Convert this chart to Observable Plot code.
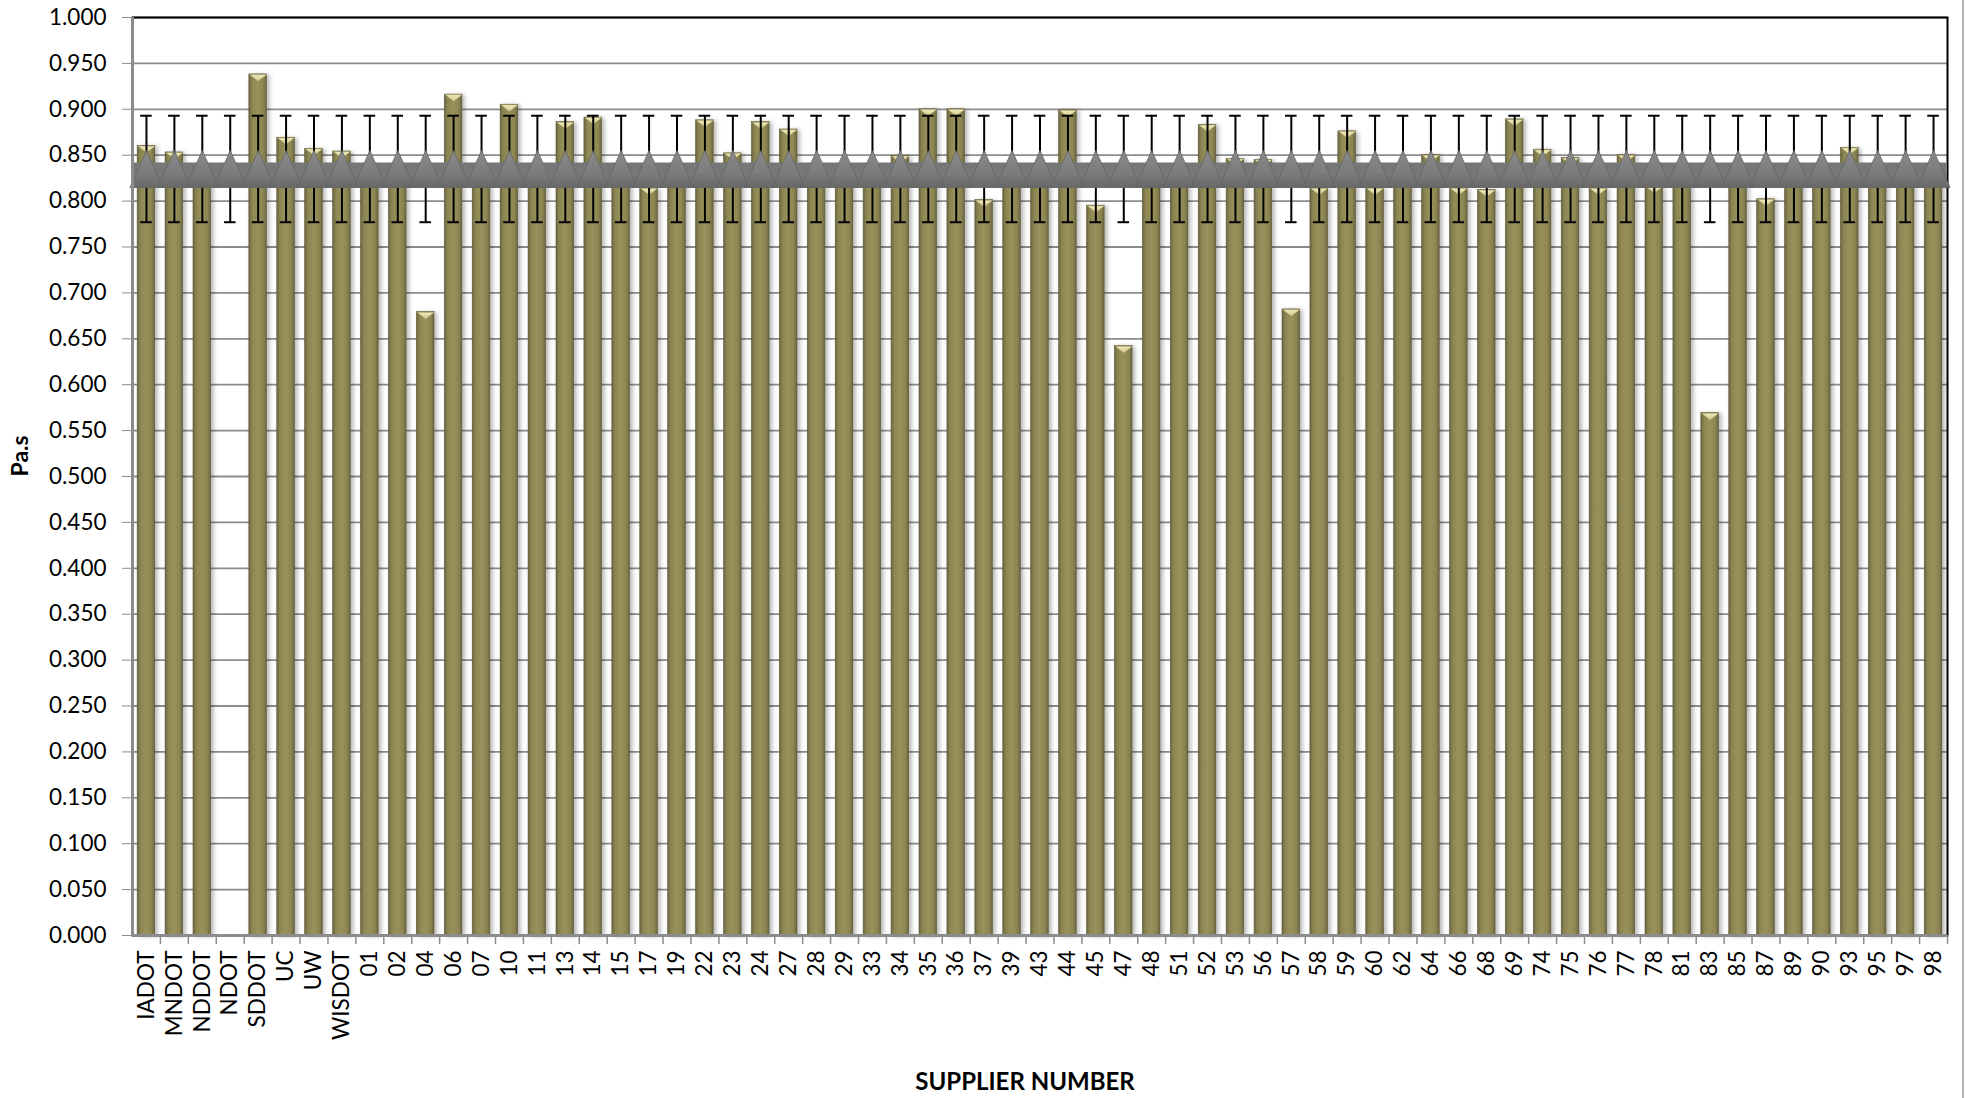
<!DOCTYPE html>
<html>
<head>
<meta charset="utf-8">
<script src="https://cdn.jsdelivr.net/npm/d3@7"></script>
<script src="https://cdn.jsdelivr.net/npm/@observablehq/plot@0.6"></script>
<style>
  html, body { margin: 0; padding: 0; background: #fff; }
  #wrap { position: relative; width: 1967px; height: 1098px; overflow: hidden; }
  #edge { position: absolute; left: 1962px; top: 0; width: 2px; height: 1098px; background: #b4b4b4; }
</style>
</head>
<body>
<div id="wrap"><div id="edge"></div></div>
<script>
const categories = ["IADOT","MNDOT","NDDOT","NDOT","SDDOT","UC","UW","WISDOT",
  "01","02","04","06","07","10","11","13","14","15","17","19","22","23","24","27","28","29",
  "33","34","35","36","37","39","43","44","45","47","48","51","52","53","56","57","58","59",
  "60","62","64","66","68","69","74","75","76","77","78","81","83","85","87","89","90","93",
  "95","97","98"];
const values = [0.860,0.853,0.835,null,0.938,0.869,0.857,0.854,
  0.833,0.830,0.679,0.916,0.835,0.905,0.832,0.886,0.891,0.836,0.814,0.833,0.888,0.852,0.886,0.878,0.834,0.831,
  0.838,0.849,0.900,0.900,0.801,0.833,0.832,0.899,0.795,0.642,0.833,0.830,0.883,0.846,0.845,0.682,0.814,0.876,
  0.814,0.833,0.850,0.814,0.812,0.889,0.856,0.847,0.814,0.850,0.816,0.833,0.569,0.831,0.802,0.834,0.830,0.858,
  0.833,0.831,0.832];
const meanValue = 0.835;   // grey triangle series (same for every supplier)
const errorValue = 0.058;  // error bar half-length
const yTicks = [0,0.05,0.1,0.15,0.2,0.25,0.3,0.35,0.4,0.45,0.5,0.55,0.6,0.65,0.7,0.75,0.8,0.85,0.9,0.95,1.0];

const data = categories.map((c, i) => ({cat: c, value: values[i], mean: meanValue, err: errorValue}));
const bars = data.filter(d => d.value != null);

const W = 1967, H = 1098, mL = 132, mR = 20, mT = 17, mB = 163;
const step = (W - mL - mR) / categories.length;
const pad = 0.37;
const bw = step * (1 - pad);

const capSymbol = { draw(ctx) { ctx.moveTo(-bw/2, 0); ctx.lineTo(bw/2, 0); ctx.lineTo(0, 7); ctx.closePath(); } };
const triSymbol = { draw(ctx) { ctx.moveTo(0, -18.5); ctx.lineTo(16.5, 18.5); ctx.lineTo(-16.5, 18.5); ctx.closePath(); } };

const chart = Plot.plot({
  width: W, height: H,
  marginLeft: mL, marginRight: mR, marginTop: mT, marginBottom: mB,
  style: {fontFamily: "Lato, 'Open Sans', sans-serif", fontSize: "22.5px", color: "#000", background: "#fff", overflow: "visible"},
  x: {type: "band", domain: categories, paddingInner: pad, paddingOuter: pad / 2, label: null},
  y: {domain: [0, 1], label: null},
  marks: [
    Plot.ruleY(yTicks, {stroke: "#8c8c8c", strokeWidth: 1.8}),
    Plot.frame({stroke: "#000", strokeWidth: 2}),
    Plot.barY(bars, {x: "cat", y: "value", fill: "url(#barGrad)", stroke: "#5e5936", strokeWidth: 0.6}),
    Plot.dot(bars, {x: "cat", y: "value", symbol: capSymbol, fill: "url(#capGrad)", stroke: "#8a8450", strokeWidth: 0.5}),
    Plot.ruleX(data, {x: "cat", y1: d => d.mean - d.err, y2: d => d.mean + d.err, stroke: "#000", strokeWidth: 2}),
    Plot.tickY(data, {x: "cat", y: d => d.mean + d.err, stroke: "#000", strokeWidth: 2, insetLeft: 3, insetRight: 3}),
    Plot.tickY(data, {x: "cat", y: d => d.mean - d.err, stroke: "#000", strokeWidth: 2, insetLeft: 3, insetRight: 3}),
    Plot.lineY(data, {x: "cat", y: "mean", stroke: "#777777", strokeWidth: 25, strokeLinecap: "square", dy: 6}),
    Plot.dot(data, {x: "cat", y: "mean", symbol: triSymbol, fill: "url(#triGrad)", stroke: "#646464", strokeWidth: 0.8}),
    Plot.ruleY([0], {stroke: "#8c8c8c", strokeWidth: 3}),
    Plot.ruleX([categories[0]], {dx: -step / 2, stroke: "#8c8c8c", strokeWidth: 3}),
    Plot.ruleX(categories, {x: d => d, dx: step / 2, y1: 0, y2: 0, insetBottom: -9, stroke: "#8c8c8c", strokeWidth: 1.5}),
    Plot.axisY({ticks: yTicks, tickFormat: d3.format(".3f"), tickSize: 10, tickPadding: 16, stroke: "#8c8c8c", fill: "#000", label: null}),
    Plot.axisX({tickRotate: -90, tickSize: 0, tickPadding: 15, fill: "#000", label: null}),
    Plot.text(["Pa.s"], {frameAnchor: "left", rotate: -90, dx: -112, fontWeight: "bold", fontSize: 23, fill: "#000"}),
    Plot.text(["SUPPLIER NUMBER"], {frameAnchor: "bottom", dy: 147, dx: -15, lineAnchor: "middle", fontWeight: "bold", fontSize: 24, fill: "#000"})
  ]
});

const ns = "http://www.w3.org/2000/svg";
const defs = document.createElementNS(ns, "defs");
defs.innerHTML = `
  <linearGradient id="barGrad" x1="0" x2="1" y1="0" y2="0">
    <stop offset="0" stop-color="#6a6440"/>
    <stop offset="0.18" stop-color="#8c8552"/>
    <stop offset="0.5" stop-color="#9a925b"/>
    <stop offset="0.82" stop-color="#8c8552"/>
    <stop offset="1" stop-color="#6a6440"/>
  </linearGradient>
  <linearGradient id="capGrad" x1="0" x2="0" y1="0" y2="1">
    <stop offset="0" stop-color="#f2ebbb"/>
    <stop offset="1" stop-color="#cfc68a"/>
  </linearGradient>
  <linearGradient id="triGrad" x1="0" x2="0" y1="0" y2="1">
    <stop offset="0" stop-color="#8a8a8a"/>
    <stop offset="0.6" stop-color="#7c7c7c"/>
    <stop offset="1" stop-color="#686868"/>
  </linearGradient>
  <filter id="shadow" x="-50%" y="-5%" width="200%" height="110%">
    <feDropShadow dx="2.5" dy="1" stdDeviation="2" flood-color="#000" flood-opacity="0.3"/>
  </filter>`;
chart.insertBefore(defs, chart.firstChild);
const barG = chart.querySelector('g[aria-label="bar"]');
if (barG) barG.setAttribute("filter", "url(#shadow)");
document.getElementById("wrap").appendChild(chart);
</script>
</body>
</html>
